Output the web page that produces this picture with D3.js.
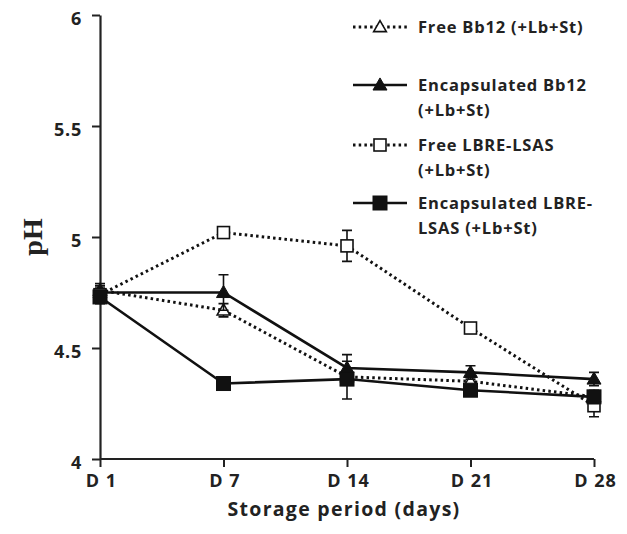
<!DOCTYPE html>
<html><head><meta charset="utf-8">
<script src="https://cdn.jsdelivr.net/npm/d3@7"></script>
<style>body{margin:0;background:#fff}svg{display:block}</style>
</head><body>
<svg id="c" width="627" height="534"></svg>
<script>
const days = ["D 1","D 7","D 14","D 21","D 28"];
const yTicks = [4,4.5,5,5.5,6];
const seriesNames = ["Free Bb12 (+Lb+St)","Encapsulated Bb12 (+Lb+St)","Free LBRE-LSAS (+Lb+St)","Encapsulated LBRE-LSAS (+Lb+St)"];
const legendLines = [["Free Bb12 (+Lb+St)"],["Encapsulated Bb12","(+Lb+St)"],["Free LBRE-LSAS","(+Lb+St)"],["Encapsulated LBRE-","LSAS (+Lb+St)"]];
const freeBb12 = [4.76,4.67,4.37,4.35,4.28];
const freeBb12Err = [0.03,0.03,0.1,0.02,0.02];
const encBb12 = [4.75,4.75,4.41,4.39,4.36];
const encBb12Err = [0.03,0.08,0.03,0.03,0.03];
const freeLbre = [4.74,5.02,4.96,4.59,4.24];
const freeLbreErr = [0.03,0.02,0.07,0.02,0.05];
const encLbre = [4.73,4.34,4.36,4.31,4.28];
const encLbreErr = [0.03,0.02,0.02,0.02,0.03];

const series = [
  {name:seriesNames[0], v:freeBb12, e:freeBb12Err, dotted:true, shape:"tri", fill:false},
  {name:seriesNames[1], v:encBb12, e:encBb12Err, dotted:false, shape:"tri", fill:true},
  {name:seriesNames[2], v:freeLbre, e:freeLbreErr, dotted:true, shape:"sq", fill:false},
  {name:seriesNames[3], v:encLbre, e:encLbreErr, dotted:false, shape:"sq", fill:true}
];

const svg = d3.select("#c");
const x = d3.scalePoint().domain(days).range([100,594]);
const y = d3.scaleLinear().domain([4,6]).range([459,15]);
const font = "'Open Sans', Lato, sans-serif";

// axes
const ya = svg.append("g").attr("transform","translate(100,0)")
  .call(d3.axisLeft(y).tickValues(yTicks).tickFormat(d3.format("")).tickSize(8).tickSizeOuter(0));
const xa = svg.append("g").attr("transform","translate(0,459)")
  .call(d3.axisBottom(x).tickSize(8).tickSizeOuter(0));
[ya,xa].forEach(a=>{
  a.select(".domain").attr("stroke","#222").attr("stroke-width",2.2);
  a.selectAll(".tick line").attr("stroke","#222").attr("stroke-width",2);
  a.selectAll(".tick text").attr("fill","#222").style("font-family",font).style("font-weight","bold").style("font-size","18px");
});
ya.selectAll(".tick text").attr("x",-18).attr("dy","0.55em").style("letter-spacing","0.8px");
xa.selectAll(".tick text").attr("y",15).attr("dy","0.71em").style("letter-spacing","1px").attr("dx","1px");
xa.select(".domain").attr("d","M100,0H594");

svg.append("text").attr("x",344).attr("y",516).attr("text-anchor","middle")
  .style("font-family",font).style("font-weight","bold").style("font-size","19.5px").style("letter-spacing","1.3px").attr("fill","#222")
  .text("Storage period (days)");
svg.append("text").attr("transform","translate(42,237) rotate(-90)").attr("text-anchor","middle")
  .style("font-family","'Liberation Serif', 'DejaVu Serif', serif").style("font-weight","bold").style("font-size","28px").attr("fill","#222")
  .text("pH");

const line = d3.line().x((d,i)=>x(days[i])).y(d=>y(d));
const tri = d3.symbol().type(d3.symbolTriangle);
function marker(g, s, cx, cy){
  if(s.shape==="sq"){
    const sz = s.fill?14:12;
    g.append("rect").attr("x",cx-sz/2).attr("y",cy-sz/2).attr("width",sz).attr("height",sz)
      .attr("fill",s.fill?"#111":"#fff").attr("stroke","#111").attr("stroke-width",s.fill?1:1.6);
  } else {
    g.append("path").attr("d",tri.size(s.fill?85:70)()).attr("transform",`translate(${cx},${cy+1})`)
      .attr("fill",s.fill?"#111":"#fff").attr("stroke","#111").attr("stroke-width",s.fill?1:1.6);
  }
}

series.forEach(s=>{
  const g = svg.append("g");
  g.append("path").attr("d",line(s.v)).attr("fill","none").attr("stroke","#111")
    .attr("stroke-width",s.dotted?3:2.6).attr("stroke-dasharray",s.dotted?"2.5,3.2":null);
  s.v.forEach((v,i)=>{
    const cx = x(days[i]);
    const y1 = y(v+s.e[i]), y2 = y(v-s.e[i]);
    g.append("path").attr("d",`M${cx},${y1}V${y2}M${cx-5},${y1}H${cx+5}M${cx-5},${y2}H${cx+5}`)
      .attr("stroke","#111").attr("stroke-width",1.6).attr("fill","none");
  });
  s.v.forEach((v,i)=>marker(g,s,x(days[i]),y(v)));
});

// legend
const legY = [27,85,145,203];
series.forEach((s,k)=>{
  const g = svg.append("g");
  const ly = legY[k];
  g.append("line").attr("x1",353).attr("x2",407).attr("y1",ly).attr("y2",ly).attr("stroke","#111")
    .attr("stroke-width",s.dotted?3:2.6).attr("stroke-dasharray",s.dotted?"2.5,3.2":null);
  marker(g,s,380,ly);
  legendLines[k].forEach((t,j)=>{
    g.append("text").attr("x",418).attr("y",ly+j*25).attr("dy","0.35em")
      .style("font-family",font).style("font-weight","bold").style("font-size","16.5px").style("letter-spacing","0.8px").attr("fill","#222").text(t);
  });
});
</script>
</body></html>
